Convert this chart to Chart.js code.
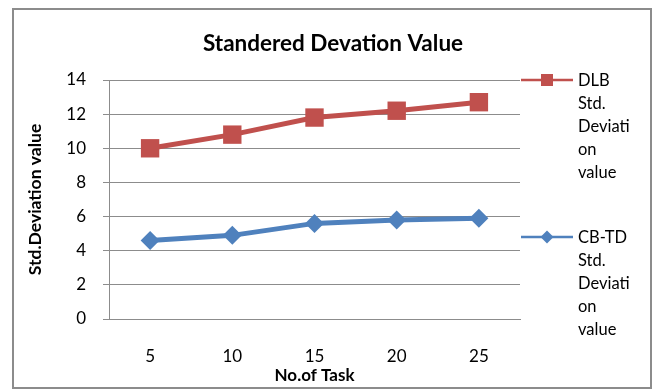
<!DOCTYPE html>
<html>
<head>
<meta charset="utf-8">
<script src="https://cdn.jsdelivr.net/npm/chart.js@4/dist/chart.umd.min.js"></script>
<style>
  html, body { margin: 0; padding: 0; background: #fff; }
  #wrap { width: 659px; height: 392px; position: relative; }
</style>
</head>
<body>
<div id="wrap"><canvas id="c" width="659" height="392"></canvas></div>
<script>
// Task counts on the x axis
const taskCounts = ['5', '10', '15', '20', '25'];
// Standard deviation per task count
const dlbValues = [10.0, 10.8, 11.8, 12.2, 12.7];
const cbtdValues = [4.6, 4.9, 5.6, 5.8, 5.9];
const yTicks = [0, 2, 4, 6, 8, 10, 12, 14];
const chartTitle = 'Standered Devation Value';
const xTitle = 'No.of Task';
const yTitle = 'Std.Deviation value';
const dlbLegend = ['DLB', 'Std.', 'Deviati', 'on', 'value'];
const cbtdLegend = ['CB-TD', 'Std.', 'Deviati', 'on', 'value'];

const RED = '#C0504D';
const BLUE = '#4F81BD';
const GRID = '#8C8C8C';
const FONT = 'Lato, "Open Sans", sans-serif';

// Outer frame, title and the wrapped right-hand legend
const decorations = {
  id: 'decorations',
  beforeDraw(chart) {
    const ctx = chart.ctx;
    ctx.save();
    ctx.fillStyle = '#fff';
    ctx.fillRect(0, 0, chart.width, chart.height);
    ctx.strokeStyle = '#8C8C8C';
    ctx.lineWidth = 2;
    ctx.strokeRect(13, 9, 638, 379);
    ctx.restore();
  },
  afterDraw(chart) {
    const ctx = chart.ctx;
    ctx.save();
    ctx.fillStyle = '#000';
    ctx.font = 'bold 22.5px ' + FONT;
    ctx.textAlign = 'center';
    ctx.textBaseline = 'middle';
    ctx.fillText(chartTitle, 333, 44);

    const drawEntry = (lines, color, style, lineY, markerR) => {
      ctx.strokeStyle = color;
      ctx.lineWidth = 2.5;
      ctx.beginPath();
      ctx.moveTo(521, lineY);
      ctx.lineTo(573, lineY);
      ctx.stroke();
      ctx.fillStyle = color;
      Chart.helpers.drawPoint(ctx, { pointStyle: style, radius: markerR, borderWidth: 0 }, 547, lineY);
      ctx.fillStyle = '#000';
      ctx.font = '16.5px ' + FONT;
      ctx.textAlign = 'left';
      ctx.textBaseline = 'alphabetic';
      lines.forEach((t, i) => ctx.fillText(t, 578, lineY + 6 + i * 23));
    };
    drawEntry(dlbLegend, RED, 'rect', 80, 8.5);
    drawEntry(cbtdLegend, BLUE, 'rectRot', 237, 6.5);
    ctx.restore();
  }
};

new Chart(document.getElementById('c'), {
  type: 'line',
  data: {
    labels: taskCounts,
    datasets: [
      {
        label: dlbLegend.join(' '),
        data: dlbValues,
        borderColor: RED,
        backgroundColor: RED,
        borderWidth: 5,
        pointStyle: 'rect',
        pointRadius: 13,
        pointHoverRadius: 13,
        pointBorderWidth: 0,
        tension: 0
      },
      {
        label: cbtdLegend.join(' '),
        data: cbtdValues,
        borderColor: BLUE,
        backgroundColor: BLUE,
        borderWidth: 5,
        pointStyle: 'rectRot',
        pointRadius: 9.5,
        pointHoverRadius: 9.5,
        pointBorderWidth: 0,
        tension: 0
      }
    ]
  },
  options: {
    responsive: false,
    animation: false,
    devicePixelRatio: 1,
    layout: { padding: { left: 14, right: 139, top: 80, bottom: 6 } },
    plugins: {
      legend: { display: false },
      title: { display: false },
      tooltip: { enabled: false }
    },
    scales: {
      x: {
        offset: true,
        grid: { display: false, drawTicks: false },
        border: { display: true, color: GRID, width: 1 },
        ticks: { color: '#000', font: { family: FONT, size: 17 }, padding: 27 },
        title: {
          display: true, text: xTitle, color: '#000',
          font: { family: FONT, size: 17, weight: 'bold' },
          padding: { top: 0, bottom: 0 }
        },
        afterFit(scale) { scale.height = 67; }
      },
      y: {
        min: 0,
        max: 14,
        afterBuildTicks(scale) { scale.ticks = yTicks.map(v => ({ value: v })); },
        grid: { color: GRID, lineWidth: 1, tickLength: 6, drawTicks: true },
        border: { display: true, color: GRID, width: 1 },
        ticks: { color: '#000', font: { family: FONT, size: 17 }, padding: 17 },
        title: {
          display: true, text: yTitle, color: '#000',
          font: { family: FONT, size: 17.5, weight: 'bold' },
          padding: { top: 10.5, bottom: 0 }
        },
        afterFit(scale) { scale.width = 95; }
      }
    }
  },
  plugins: [decorations]
});
</script>
</body>
</html>
